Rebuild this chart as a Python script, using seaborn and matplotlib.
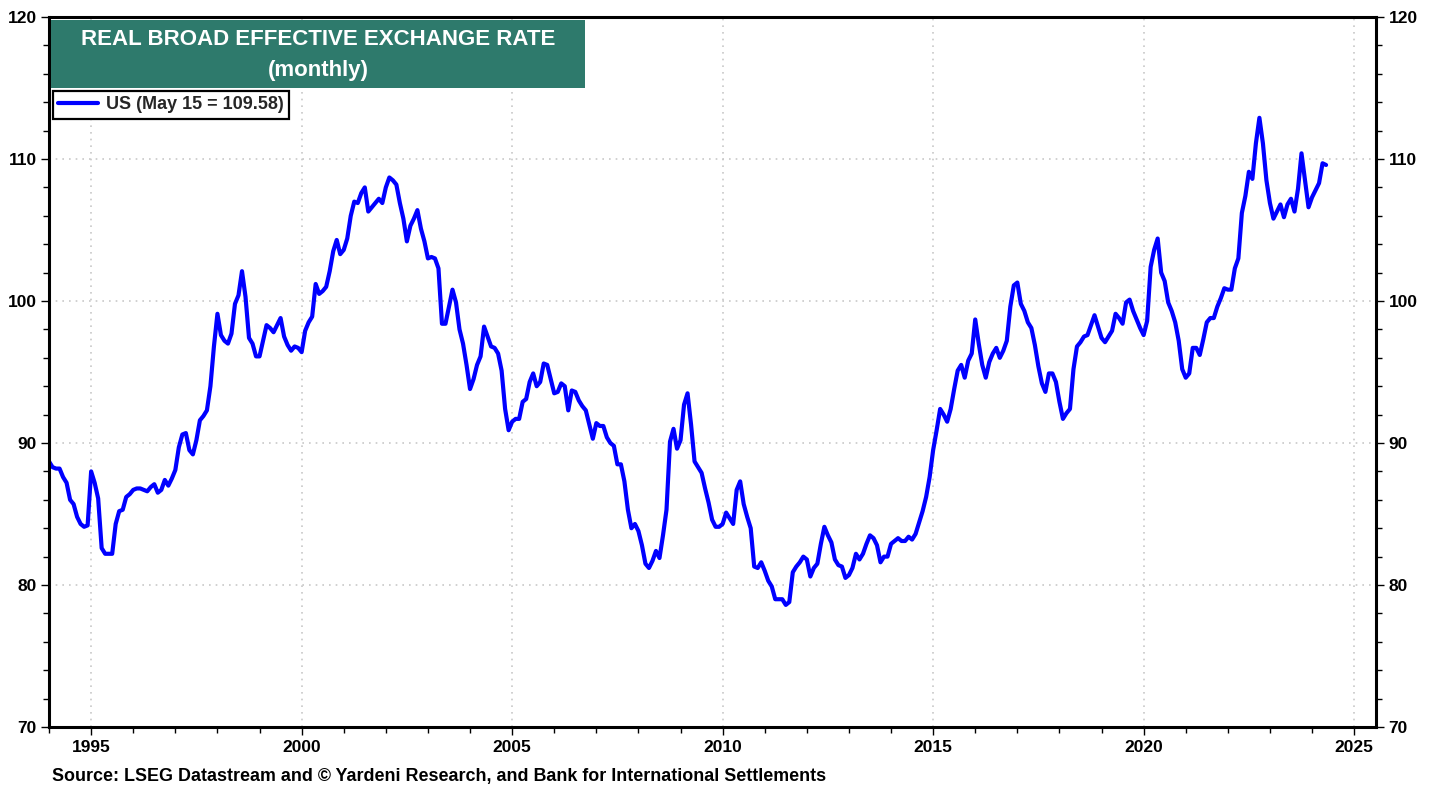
import numpy as np
import pandas as pd
import matplotlib.pyplot as plt
from matplotlib.patches import Rectangle
from matplotlib.ticker import MultipleLocator
import seaborn as sns

# monthly values, Jan 1994 .. May 2024, one list per year
v1994 = [88.7, 88.3, 88.2, 88.2, 87.6, 87.2, 86.0, 85.7, 84.8, 84.3, 84.1, 84.2]
v1995 = [88.0, 87.2, 86.1, 82.6, 82.2, 82.2, 82.2, 84.3, 85.2, 85.3, 86.2, 86.4]
v1996 = [86.7, 86.8, 86.8, 86.7, 86.6, 86.9, 87.1, 86.5, 86.7, 87.4, 87.0, 87.5]
v1997 = [88.1, 89.7, 90.6, 90.7, 89.5, 89.2, 90.2, 91.6, 91.9, 92.3, 94.0, 96.8]
v1998 = [99.1, 97.6, 97.2, 97.0, 97.7, 99.8, 100.4, 102.1, 100.3, 97.4, 97.0, 96.1]
v1999 = [96.1, 97.2, 98.3, 98.1, 97.8, 98.3, 98.8, 97.5, 96.9, 96.5, 96.8, 96.7]
v2000 = [96.4, 97.9, 98.5, 98.9, 101.2, 100.5, 100.7, 101.0, 102.1, 103.5, 104.3, 103.3]
v2001 = [103.6, 104.4, 106.0, 107.0, 106.9, 107.6, 108.0, 106.3, 106.6, 106.9, 107.2, 106.9]
v2002 = [108.0, 108.7, 108.5, 108.2, 106.9, 105.8, 104.2, 105.3, 105.8, 106.4, 105.1, 104.2]
v2003 = [103.0, 103.1, 103.0, 102.3, 98.4, 98.4, 99.6, 100.8, 99.9, 98.0, 97.0, 95.5]
v2004 = [93.8, 94.5, 95.5, 96.1, 98.2, 97.5, 96.8, 96.7, 96.3, 95.1, 92.4, 90.9]
v2005 = [91.5, 91.7, 91.7, 92.9, 93.1, 94.3, 94.9, 94.0, 94.3, 95.6, 95.5, 94.5]
v2006 = [93.5, 93.6, 94.2, 94.0, 92.3, 93.7, 93.6, 93.0, 92.6, 92.3, 91.3, 90.3]
v2007 = [91.4, 91.2, 91.2, 90.4, 90.0, 89.8, 88.5, 88.5, 87.3, 85.3, 84.0, 84.3]
v2008 = [83.8, 82.8, 81.5, 81.2, 81.7, 82.4, 81.9, 83.5, 85.3, 90.1, 91.0, 89.6]
v2009 = [90.2, 92.7, 93.5, 91.3, 88.7, 88.3, 87.9, 86.8, 85.8, 84.6, 84.1, 84.1]
v2010 = [84.3, 85.1, 84.7, 84.3, 86.7, 87.3, 85.7, 84.8, 84.0, 81.3, 81.2, 81.6]
v2011 = [81.0, 80.3, 79.9, 79.0, 79.0, 79.0, 78.6, 78.8, 80.9, 81.3, 81.6, 82.0]
v2012 = [81.8, 80.6, 81.2, 81.5, 82.9, 84.1, 83.5, 83.0, 81.8, 81.4, 81.3, 80.5]
v2013 = [80.7, 81.2, 82.2, 81.8, 82.2, 82.9, 83.5, 83.3, 82.8, 81.6, 82.0, 82.0]
v2014 = [82.9, 83.1, 83.3, 83.1, 83.1, 83.4, 83.2, 83.6, 84.4, 85.2, 86.2, 87.6]
v2015 = [89.5, 90.9, 92.4, 92.0, 91.5, 92.4, 93.8, 95.1, 95.5, 94.6, 95.8, 96.3]
v2016 = [98.7, 97.0, 95.5, 94.6, 95.7, 96.3, 96.7, 96.0, 96.5, 97.2, 99.6, 101.1]
v2017 = [101.3, 99.8, 99.3, 98.5, 98.1, 96.9, 95.4, 94.2, 93.6, 94.9, 94.9, 94.3]
v2018 = [92.9, 91.7, 92.1, 92.4, 95.2, 96.8, 97.1, 97.5, 97.6, 98.3, 99.0, 98.2]
v2019 = [97.4, 97.1, 97.5, 97.9, 99.1, 98.8, 98.4, 99.9, 100.1, 99.3, 98.7, 98.1]
v2020 = [97.6, 98.6, 102.4, 103.6, 104.4, 102.0, 101.4, 99.9, 99.3, 98.5, 97.2, 95.2]
v2021 = [94.6, 94.9, 96.7, 96.7, 96.2, 97.3, 98.5, 98.8, 98.8, 99.6, 100.2, 100.9]
v2022 = [100.8, 100.8, 102.3, 103.0, 106.2, 107.4, 109.1, 108.6, 111.1, 112.9, 111.1, 108.5]
v2023 = [106.9, 105.8, 106.3, 106.8, 105.9, 106.8, 107.2, 106.3, 107.9, 110.4, 108.5, 106.6]
v2024 = [107.3, 107.8, 108.3, 109.7, 109.58]

series_label = 'US (May 15 = 109.58)'
title_lines = ['REAL BROAD EFFECTIVE EXCHANGE RATE', '(monthly)']
source_text = 'Source: LSEG Datastream and \u00a9 Yardeni Research, and Bank for International Settlements'

values = (v1994 + v1995 + v1996 + v1997 + v1998 + v1999 + v2000 + v2001 + v2002 + v2003
          + v2004 + v2005 + v2006 + v2007 + v2008 + v2009 + v2010 + v2011 + v2012 + v2013
          + v2014 + v2015 + v2016 + v2017 + v2018 + v2019 + v2020 + v2021 + v2022 + v2023 + v2024)
dates = pd.date_range('1994-01-01', periods=len(values), freq='MS')
df = pd.DataFrame({'year': dates.year + (dates.month - 1) / 12, 'value': values})

sns.set_style('white')
plt.rcParams['font.family'] = ['Liberation Sans', 'DejaVu Sans']
plt.rcParams['font.weight'] = 'bold'

fig = plt.figure(figsize=(14.38, 7.87), dpi=100)
ax = fig.add_axes([0.0341, 0.0762, 0.9228, 0.9022])

sns.lineplot(data=df, x='year', y='value', color='#0000ff', linewidth=3.0,
             label=series_label, ax=ax)

ax.set_xlim(1994, 2025.52)
ax.set_ylim(70, 120)
ax.xaxis.set_major_locator(MultipleLocator(5))
ax.xaxis.set_minor_locator(MultipleLocator(1))
ax.yaxis.set_major_locator(MultipleLocator(10))
ax.yaxis.set_minor_locator(MultipleLocator(2))
ax.grid(True, which='major', linestyle=(0, (1, 3)), color='#c8c8c8', linewidth=1.2)
ax.set_xlabel('')
ax.set_ylabel('')

for s in ax.spines.values():
    s.set_color('black')
    s.set_linewidth(2.2)

ax.tick_params(axis='both', which='both', direction='out', color='black', width=1.0,
               labelsize=12.5, labelcolor='black')
ax.tick_params(axis='both', which='major', length=6, pad=3)
ax.tick_params(axis='both', which='minor', length=4)
ax.tick_params(axis='y', which='both', left=True, right=True, labelleft=True, labelright=True)
ax.tick_params(axis='x', which='both', bottom=True, top=False)
for lab in ax.get_xticklabels() + ax.get_yticklabels():
    lab.set_fontweight('bold')

# title box
ax.add_patch(Rectangle((0.0015, 0.9), 0.4024, 0.0958, transform=ax.transAxes,
                       facecolor='#2e7a6c', edgecolor='none', zorder=5))
ax.text(0.2027, 0.969, title_lines[0], transform=ax.transAxes, ha='center', va='center',
        color='white', fontsize=16, fontweight='bold', zorder=6)
ax.text(0.2027, 0.925, title_lines[1], transform=ax.transAxes, ha='center', va='center',
        color='white', fontsize=16, fontweight='bold', zorder=6)

leg = ax.legend(loc='upper left', bbox_to_anchor=(0.003, 0.896), borderaxespad=0,
                frameon=True, fancybox=False, framealpha=1, edgecolor='black',
                prop={'weight': 'bold', 'size': 13}, handlelength=2.2,
                borderpad=0.3, handletextpad=0.45)
leg.get_frame().set_linewidth(1.6)

fig.text(52 / 1438, 1 - 776 / 787, source_text, ha='left', va='center',
         fontsize=12.9, fontweight='bold', color='black')

fig.savefig('out.png', dpi=100)
